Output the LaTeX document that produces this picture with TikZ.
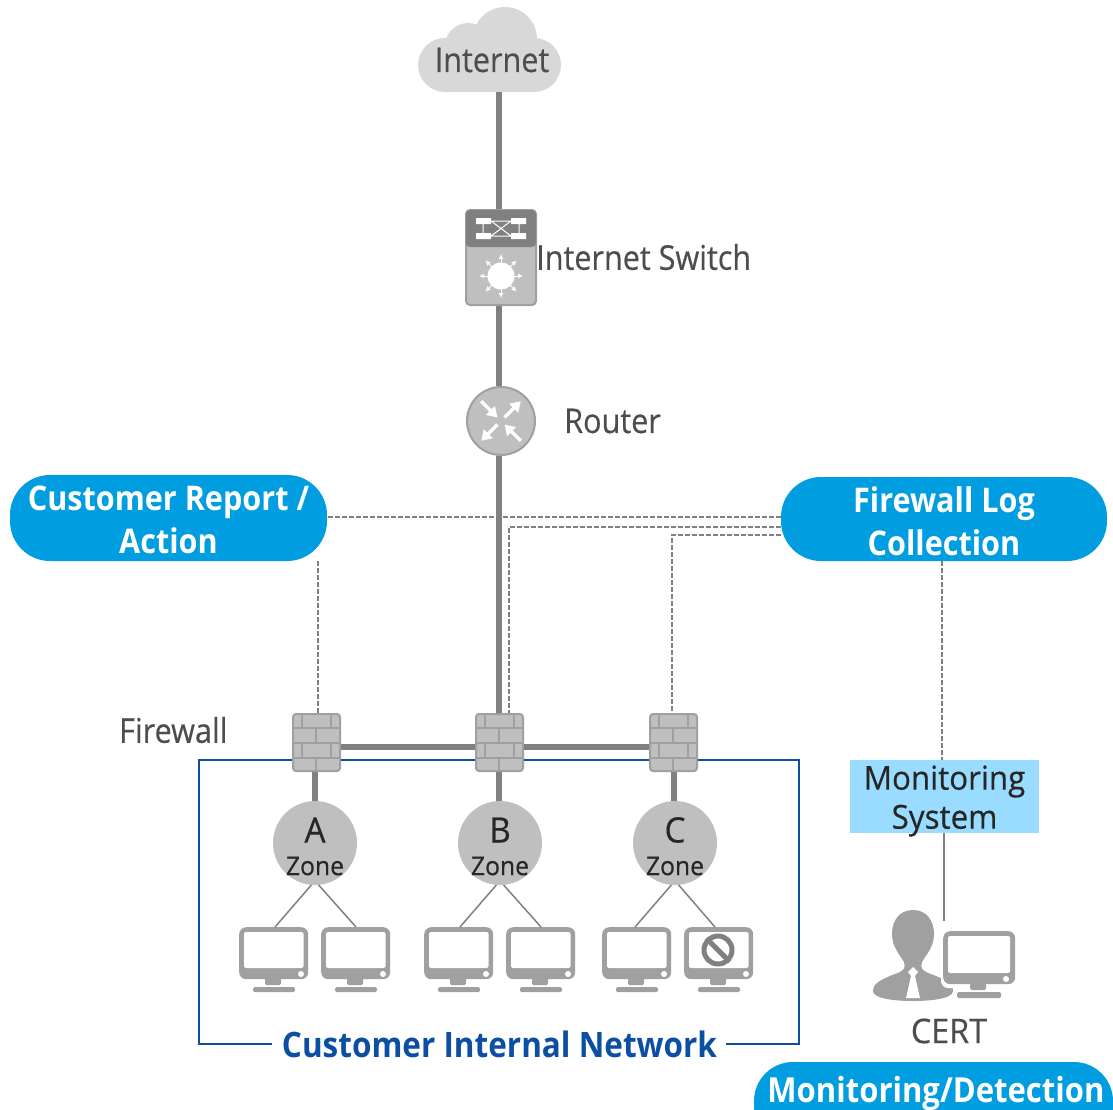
\documentclass[tikz,border=0pt]{standalone}
\usepackage{fontspec}
\setmainfont{Open Sans}[FakeStretch=0.9,FakeBold=0.4]
\newfontfamily\midf{Open Sans}[FakeStretch=0.95,FakeBold=0.4]
\newfontfamily\semib{Open Sans}[FakeStretch=0.9]
\usetikzlibrary{arrows.meta,calc}
\definecolor{txt}{HTML}{4D4D4D}
\definecolor{dark}{HTML}{262626}
\definecolor{wire}{HTML}{808080}
\definecolor{ico}{HTML}{A0A0A0}
\definecolor{fill}{HTML}{BFBFBF}
\definecolor{cloudc}{HTML}{D8D8D8}
\definecolor{pill}{HTML}{009DE0}
\definecolor{lightb}{HTML}{99DCFF}
\definecolor{navy}{HTML}{0B4EA2}
\tikzset{
 x=1pt,y=-1pt,
 thick wire/.style={draw=wire,line width=6pt},
 thin wire/.style={draw=wire,line width=1.5pt},
 dash wire/.style={draw=wire,line width=1.3pt,dash pattern=on 5pt off 2pt},
 frame line/.style={draw=navy,line width=2.5pt},
 pillbox/.style={fill=pill,rounded corners=40pt,inner sep=0pt},
 pilltext/.style={text=white,inner sep=0pt,align=center,font=\fontsize{34}{43}\selectfont\semib\bfseries},
 lab/.style={text=txt,inner sep=0pt,font=\fontsize{34}{40}\selectfont},
 zone/.style={circle,fill=fill,minimum size=84pt,inner sep=0pt},
 zoneletter/.style={text=dark,inner sep=0pt,font=\fontsize{35}{40}\selectfont\midf},
 zonename/.style={text=dark,inner sep=0pt,font=\fontsize{26}{30}\selectfont\midf},
 fwbox/.style={rectangle,draw=ico,fill=fill,line width=2pt,rounded corners=3pt,minimum width=47pt,minimum height=57pt,inner sep=0pt},
 monbox/.style={rectangle,inner sep=0pt,minimum width=69pt,minimum height=52pt},
}
\newcommand{\monitor}[3]{% name, x-left, y-top
 \node[monbox,anchor=north west,fill=ico,rounded corners=7pt] (#1) at (#2,#3) {};
 \begin{scope}[shift={(#2,#3)}]
 \fill[white,rounded corners=2pt] (5,5) rectangle (64.5,41);
 \fill[white] (62,47) circle (3);
 \fill[ico,rounded corners=1.5pt] (26,50) rectangle (42,58);
 \fill[ico,rounded corners=1.5pt] (14,60) rectangle (56,65);
 \end{scope}
}
\newcommand{\firewall}[3]{% name, x-left, y-top
 \node[fwbox,anchor=north west] (#1) at (#2,#3) {};
 \begin{scope}[shift={(#2,#3)},draw=ico,line width=2pt]
 \draw (0,15) -- (49,15) (0,30) -- (49,30) (0,45) -- (49,45);
 \draw (10,0) -- (10,15) (39,0) -- (39,15);
 \draw (24,15) -- (24,30);
 \draw (10,30) -- (10,45) (39,30) -- (39,45);
 \draw (24,45) -- (24,59);
 \end{scope}
}
\begin{document}
\begin{tikzpicture}[x=1pt,y=-1pt]
\useasboundingbox (0,0) rectangle (1113,1110);

% cloud
\node[inner sep=0pt,minimum width=143pt,minimum height=84pt] (cloud) at (489.5,50) {};
\fill[cloudc] (445,65) circle (27) (534,65) circle (27) (505,39) circle (32) (468,46) circle (23);
\fill[cloudc] (445,60) rectangle (534,92);
\node[lab,text=txt] (internet) at (492,60) {Internet};

% switch and router
\node[rectangle,fill=fill,draw=ico,line width=2pt,rounded corners=4pt,minimum width=70pt,minimum height=95pt,inner sep=0pt] (switch) at (501,257.5) {};
\node[circle,fill=fill,draw=ico,line width=2pt,minimum size=68pt,inner sep=0pt] (router) at (501,421) {};

\node[pillbox,minimum width=317pt,minimum height=86pt] (report) at (168.5,518) {};
\node[pilltext] (reportt) at (168.5,520) {Customer Report /\\Action};
\node[pillbox,minimum width=326pt,minimum height=84pt] (log) at (944,519) {};
\node[pilltext] (logt) at (944,521) {Firewall Log\\Collection};

\firewall{fwa}{292}{713}
\firewall{fwb}{475}{713}
\firewall{fwc}{649}{713}

% blue frame
\coordinate (frameL) at (272,1044);
\coordinate (frameR) at (726,1044);

% connectors
\draw[thick wire] (cloud.south -| 499,0) -- (switch.north -| 499,0);
\draw[thick wire] (switch.south -| 499,0) -- (router.north -| 499,0);
\draw[thick wire] (router.south -| 499,0) -- (fwb.north -| 499,0);
\draw[thick wire] (fwa.east |- 0,747) -- (fwb.west |- 0,747);
\draw[thick wire] (fwb.east |- 0,747) -- (fwc.west |- 0,747);
\draw[frame line] (frameL) -- (199,1044) -- (199,760) -- (fwa.west |- 0,760);
\draw[frame line] (fwa.east |- 0,760) -- (fwb.west |- 0,760) (fwb.east |- 0,760) -- (fwc.west |- 0,760);
\draw[frame line] (fwc.east |- 0,760) -- (799,760) -- (799,1044) -- (frameR);

% switch details
\path[fill=wire,rounded corners=4pt] (466,247) -- (466,210) -- (536,210) -- (536,247) -- cycle;
\fill[white] (476,218) rectangle (491,224) (511,218) rectangle (526,224) (476,233) rectangle (491,239) (511,233) rectangle (526,239);
\draw[white,line width=1pt] (491,221) -- (511,236) (491,236) -- (511,221) (491,221) -- (511,221) (491,236) -- (511,236) (483,224) -- (483,233) (519,224) -- (519,233);
\fill[white] (501,276) circle (13.5);
\foreach \a in {0,45,...,315}
  \draw[white,line width=1pt,-{Latex[length=5pt,width=5pt]}] ($(501,276)+(\a:12)$) -- ($(501,276)+(\a:22)$);
% router details
\foreach \a in {135,315}
  \draw[white,line width=3.5pt,-{Triangle[length=10pt,width=12pt]}] ($(501,421)+(\a:5)$) -- ($(501,421)+(\a:28)$);
\foreach \a in {45,225}
  \draw[white,line width=3.5pt,{Triangle[length=10pt,width=12pt]}-] ($(501,421)+(\a:5)$) -- ($(501,421)+(\a:28)$);

\node[lab,anchor=west] (switchl) at (536,257) {Internet Switch};
\node[lab,anchor=west] (routerl) at (564,421) {Router};
\node[lab,anchor=west] (fwl) at (119,730) {Firewall};

% dashed
\draw[dash wire] (log.west |- 0,517) -- (report.east |- 0,517);
\draw[dash wire] (318,561) -- (318,713);
\draw[dash wire] (log.west |- 0,527) -- (509,527) -- (509,713);
\draw[dash wire] (log.west |- 0,535) -- (672,535) -- (672,713);
\draw[dash wire] (log.south -| 942,0) -- (942,760);

% zones
\node[zone] (za) at (315,843) {};
\node[zone] (zb) at (500,843) {};
\node[zone] (zc) at (675,843) {};
\node[zoneletter] (la) at (315,830) {A};
\node[zoneletter] (lb) at (500,830) {B};
\node[zoneletter] (lc) at (675,830) {C};
\node[zonename] (t1) at (315,866) {Zone};
\node[zonename] (t2) at (500,866) {Zone};
\node[zonename] (t3) at (675,866) {Zone};
\draw[thick wire] (fwa.south -| 315,0) -- (za.north);
\draw[thick wire] (fwb.south -| 499,0) -- (zb.north -| 499,0);
\draw[thick wire] (fwc.south -| 674,0) -- (zc.north -| 674,0);

% monitors
\monitor{m1}{239}{927}
\monitor{m2}{321}{927}
\monitor{m3}{424}{927}
\monitor{m4}{506}{927}
\monitor{m5}{602}{927}
\monitor{m6}{684}{927}
\draw[thin wire] (za.-95) -- (275,927);
\draw[thin wire] (za.-85) -- (356,927);
\draw[thin wire] (zb.-95) -- (460,927);
\draw[thin wire] (zb.-85) -- (541,927);
\draw[thin wire] (zc.-95) -- (635,927);
\draw[thin wire] (zc.-85) -- (715,927);
% blocked sign
\node[circle,draw=wire,line width=5pt,minimum size=28pt,inner sep=0pt] (ban) at (718,950) {};
\draw[wire,line width=5pt] (ban.135) -- (ban.-45);

% CERT
\node[inner sep=0pt,minimum width=72pt,minimum height=90pt] (person) at (913,955) {};
\fill[ico] (913,910) .. controls (899,910) and (892,921) .. (892,934)
  .. controls (892,947) and (900,955) .. (904,962)
  .. controls (906,968) and (904,971) .. (895,974)
  .. controls (882,979) and (873,983) .. (873,991)
  .. controls (873,998) and (892,1001) .. (913,1001)
  .. controls (934,1001) and (953,998) .. (953,991)
  .. controls (953,983) and (944,979) .. (931,974)
  .. controls (922,971) and (920,968) .. (922,962)
  .. controls (926,955) and (934,947) .. (934,934)
  .. controls (934,921) and (927,910) .. (913,910) -- cycle;
\fill[white] (913,967) -- (918,972) -- (915,976) -- (920,998) -- (906,998) -- (911,976) -- (908,972) -- cycle;
\fill[white,rounded corners=7pt] (941,929) rectangle (1017,988);
\node[monbox,anchor=north west,fill=ico,rounded corners=7pt,minimum width=72pt,minimum height=53pt] (cm) at (943,931) {};
\fill[white,rounded corners=2pt] (948,936) rectangle (1010,973);
\fill[white] (1006,979) circle (3);
\fill[ico,rounded corners=1.5pt] (970,983) rectangle (986,990);
\fill[ico,rounded corners=1.5pt] (957,992) rectangle (1001,998);
\node[lab,font=\fontsize{34}{40}\selectfont\midf] (cert) at (949,1031) {CERT};

\node[fill=lightb,inner sep=0pt,minimum width=189pt,minimum height=73pt] (mon) at (944.5,796.5) {};
\node[inner sep=0pt,align=center,text=dark,font=\fontsize{33}{39}\selectfont\midf] (mont) at (944.5,801) {Monitoring\\System};
\draw[thin wire] (mon.south -| 944,0) -- (944,921);

\node[text=navy,inner sep=0pt,font=\fontsize{35}{40}\selectfont\semib\bfseries] (cin) at (499.5,1044) {Customer Internal Network};

\begin{scope}
\clip (0,0) rectangle (1113,1110);
\fill[pill,rounded corners=39pt] (754,1062) rectangle (1113,1170);
\end{scope}
\node[text=white,inner sep=0pt,font=\fontsize{34.5}{40}\selectfont\semib\bfseries] (md) at (936,1094) {Monitoring/Detection};
\end{tikzpicture}
\end{document}
